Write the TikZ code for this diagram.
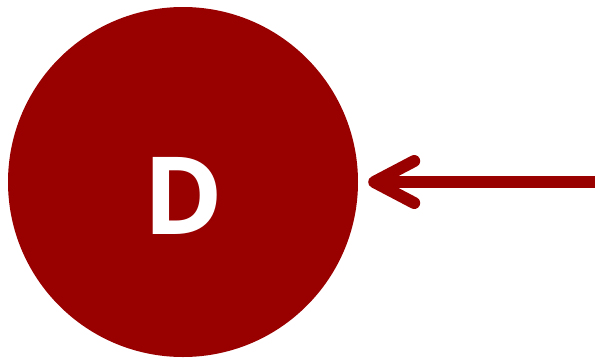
\documentclass[tikz,border=0pt]{standalone}
\usepackage{fontspec}
\setsansfont{Open Sans}
\usetikzlibrary{arrows.meta, positioning}
\definecolor{dred}{RGB}{153,0,0}

\begin{document}
\begin{tikzpicture}[
    x=1pt, y=-1pt,
    blob/.style={circle, fill=dred, inner sep=0pt, minimum size=350pt, text=white, text height=105pt, text depth=0pt, font=\sffamily\bfseries\fontsize{108}{108}\selectfont},
    arr/.style={-{Straight Barb[length=40pt, width=42pt, round]}, line width=12pt, dred}
]
\useasboundingbox (0,0) rectangle (595,360);
% the circle and the incoming arrow
\node[blob] (d) at (183,182) {D};
\coordinate (src) at (595,182);
\draw[arr, shorten >=10pt] (src) -- (d.east);
\end{tikzpicture}
\end{document}
